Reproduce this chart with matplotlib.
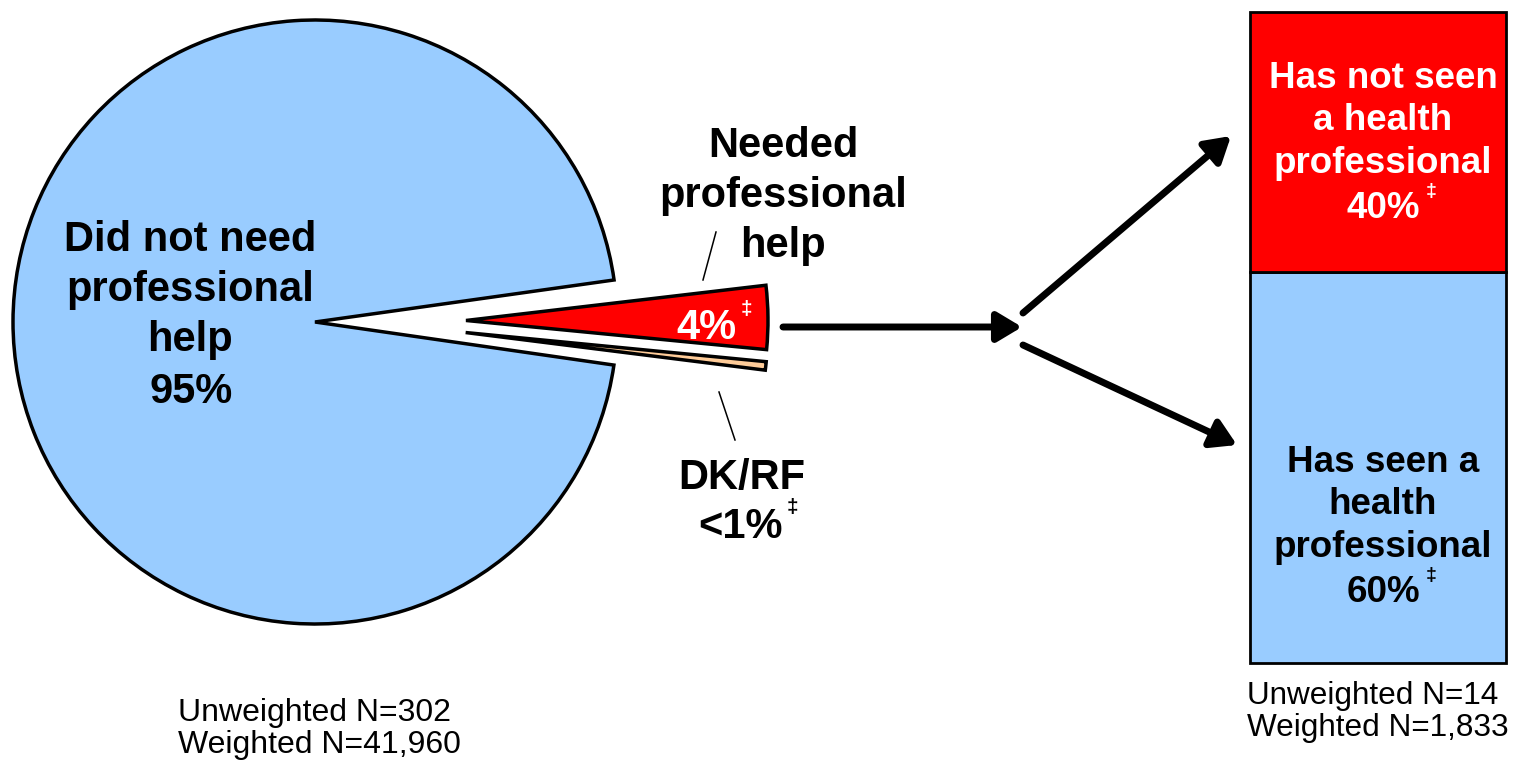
import numpy as np
import matplotlib.pyplot as plt

plt.rcParams['font.family'] = ['Liberation Sans', 'DejaVu Sans']

# pie data (shares of the circle as drawn, in percent)
pie_labels = ['Did not need\nprofessional\nhelp', 'Needed\nprofessional\nhelp', 'DK/RF']
pie_pct = ['95%', '4%', '<1%']
pie_values = [95.5, 3.4, 0.45]
pie_colors = ['#99CCFF', '#FF0000', '#FFCC99']

# stacked bar data (among those who needed help)
bar_labels = ['Has seen a\nhealth\nprofessional', 'Has not seen\na health\nprofessional']
bar_values = [60, 40]
bar_colors = ['#99CCFF', '#FF0000']
bar_text_colors = ['black', 'white']

left_n = 'Unweighted N=302\nWeighted N=41,960'
right_n = 'Unweighted N=14\nWeighted N=1,833'

W, H = 1513, 763
fig = plt.figure(figsize=(W / 100, H / 100), dpi=100)
ax = fig.add_axes([0, 0, 1, 1])
ax.set_zorder(2)  # texts on top of the bar axes

def Y(py):
    return H - py

cx, cy, R = 315, Y(322), 302
wp = dict(edgecolor='black', linewidth=2.5, joinstyle='miter')

# big slice
ax.pie([pie_values[0] / 100], colors=pie_colors[:1], startangle=-8.2,
       counterclock=False, normalize=False, center=(cx, cy), radius=R, wedgeprops=wp)
# the two small slices, pulled out to the right
small, _ = ax.pie([v / 100 for v in pie_values[1:]], colors=pie_colors[1:],
                  startangle=6.7, counterclock=False, normalize=False,
                  explode=[151, 151], center=(cx, cy), radius=R, wedgeprops=wp)
ang = np.deg2rad(-4)
small[1].set_center((cx + 151 * np.cos(ang), cy + 151 * np.sin(ang)))
ax.set_xlim(0, W)
ax.set_ylim(0, H)
ax.set_aspect('equal')
ax.axis('off')

big = 30
ls = 1.32
ax.text(190, Y(290), pie_labels[0], ha='center', va='center', fontsize=big,
        fontweight='bold', linespacing=ls)
ax.text(191, Y(392), pie_pct[0], ha='center', va='center', fontsize=big,
        fontweight='bold')
ax.text(783, Y(196), pie_labels[1], ha='center', va='center',
        fontsize=big, fontweight='bold', linespacing=ls)
ax.text(706, Y(328), pie_pct[1], ha='center', va='center', fontsize=big,
        fontweight='bold', color='white')
ax.text(746, Y(309), '‡', ha='center', va='center', fontsize=15,
        fontweight='bold', color='white')
ax.text(742, Y(478), pie_labels[2], ha='center', va='center', fontsize=big,
        fontweight='bold')
ax.text(740, Y(527), pie_pct[2], ha='center', va='center', fontsize=big,
        fontweight='bold')
ax.text(792, Y(508), '‡', ha='center', va='center', fontsize=15, fontweight='bold')

# leader lines
ax.plot([716, 703], [Y(232), Y(280)], color='black', lw=1.1)
ax.plot([719, 735], [Y(392), Y(440)], color='black', lw=1.1)

# arrows
arr = dict(arrowstyle='-|>,head_length=0.5,head_width=0.3', lw=5, color='black',
           mutation_scale=30, shrinkA=0, shrinkB=0)
ax.annotate('', xy=(1022, Y(327)), xytext=(783, Y(327)), arrowprops=arr)
ax.annotate('', xy=(1231, Y(136)), xytext=(1023, Y(313)), arrowprops=arr)
ax.annotate('', xy=(1237, Y(445)), xytext=(1023, Y(345)), arrowprops=arr)

# sample sizes
ax.text(178, Y(729), left_n, ha='left', va='center', fontsize=23, linespacing=1.05)
ax.text(1247, Y(712), right_n, ha='left', va='center', fontsize=22.7, linespacing=1.12)

# stacked bar
bx = fig.add_axes([1250 / W, (H - 663) / H, 256 / W, 651 / H])
bx.set_zorder(1)
bottom = 0
for v, c in zip(bar_values, bar_colors):
    bx.bar(0, v, bottom=bottom, width=1, color=c, edgecolor='black', lw=2, clip_on=False)
    bottom += v
bx.set_xlim(-0.5, 0.5)
bx.set_ylim(0, 100)
bx.axis('off')

# bar texts (pixel positions of the label block and the percent line)
label_y = [505, 121]
pct_y = [593, 208]
for v, lab, tc, ly, py in zip(bar_values, bar_labels, bar_text_colors, label_y, pct_y):
    ax.text(1383, Y(ly), lab, ha='center', va='center', fontsize=26.5,
            fontweight='bold', color=tc, linespacing=1.28)
    ax.text(1383, Y(py), f'{v}%', ha='center', va='center', fontsize=26.5,
            fontweight='bold', color=tc)
    ax.text(1431, Y(py - 17), '‡', ha='center', va='center', fontsize=14,
            fontweight='bold', color=tc)

fig.savefig('out.png', dpi=100)
